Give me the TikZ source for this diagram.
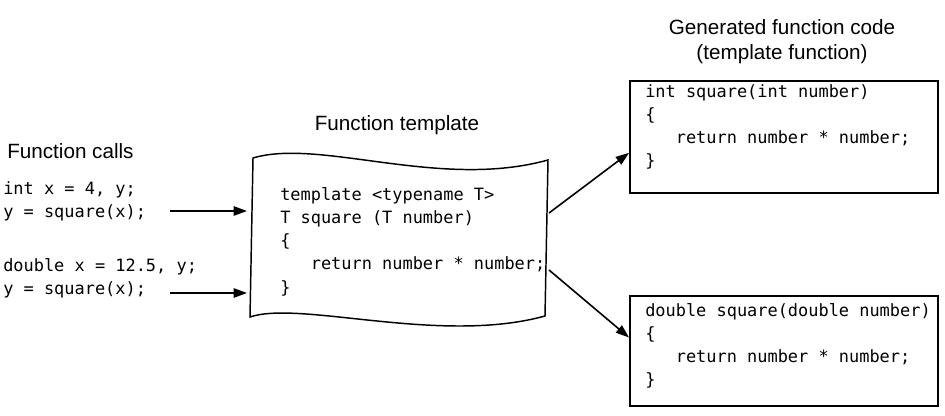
\documentclass[tikz,border=0pt]{standalone}
\usepackage{fontspec}
\setsansfont{Liberation Sans}
\setmonofont{DejaVu Sans Mono}
\usetikzlibrary{calc, arrows.meta}

\begin{document}
\begin{tikzpicture}[x=0.75pt, y=-0.75pt,
    lbl/.style={font=\sffamily\fontsize{15.5}{18.75}\selectfont, align=center, inner sep=0pt},
    code/.style={font=\ttfamily\fontsize{12.7}{17.4}\selectfont, align=left, inner sep=0pt, anchor=north west},
    genbox/.style={draw, line width=1.4pt, minimum width=231pt, anchor=north west, inner sep=0pt},
    arr/.style={-{Triangle[length=10pt, width=7pt]}, line width=1.2pt}]
  \useasboundingbox (0,0) rectangle (945,416);

  % calls on the left
  \node[lbl, anchor=west] (callslbl) at (7,151) {Function calls};
  \node[code] (callA) at (3,181) {int x = 4, y;\\y = square(x);};
  \node[code] (callB) at (3,258) {double x = 12.5, y;\\y = square(x);};

  % the template, on a wavy sheet
  \node[lbl] (tmpllbl) at (397,125) {Function template};
  \draw[line width=1.1pt] (253,158) .. controls (320,138) and (440,190) .. (548,160)
    -- (545,316) .. controls (440,345) and (300,300) .. (250,317) -- cycle;
  \node[code] (tmpl) at (280,187) {template <typename T>\\T square (T number)\\\{\\
    \phantom{ret}return number * number;\\\}};

  % generated functions
  \node[lbl] (genlbl) at (782,42) {Generated function code\\(template function)};
  \node[genbox, minimum height=84pt] (gen1) at (629,80) {};
  \node[code] (gen1code) at (645,84) {int square(int number)\\\{\\
    \phantom{ret}return number * number;\\\}};
  \node[genbox, minimum height=82.5pt] (gen2) at (629,295) {};
  \node[code] (gen2code) at (645,303) {double square(double number)\\\{\\
    \phantom{ret}return number * number;\\\}};

  \coordinate (fromA) at (170,211);
  \coordinate (toA) at (247,211);
  \coordinate (fromB) at (170,293);
  \coordinate (toB) at (247,293);
  \coordinate (outA) at (549,213);
  \coordinate (outB) at (549,270);

  \draw[arr] (fromA) -- (toA);
  \draw[arr] (fromB) -- (toB);
  \draw[arr] (outA) -- ($(gen1.north west)!0.64!(gen1.south west)$);
  \draw[arr] (outB) -- ($(gen2.north west)!0.38!(gen2.south west)$);
\end{tikzpicture}
\end{document}
